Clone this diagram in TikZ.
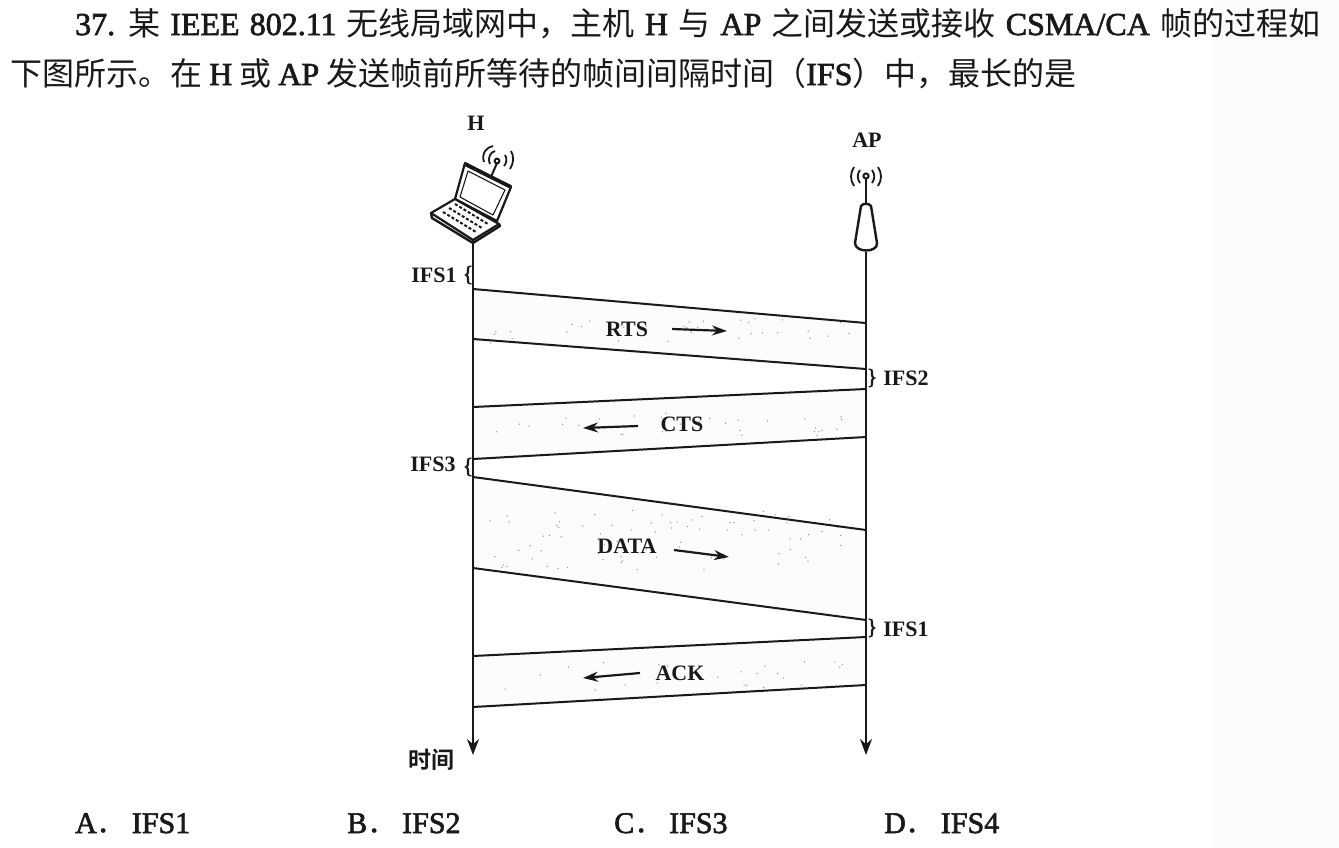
\documentclass[tikz,border=0pt]{standalone}
\usepackage{fontspec}
\setmainfont{Liberation Serif}[RawFeature={embolden=2}]
\newfontfamily\lblfont{Liberation Serif Bold}
\newfontfamily\cjk{Noto Sans CJK SC}
\newfontfamily\cjkb{Noto Sans CJK SC Bold}
\usetikzlibrary{arrows.meta}
\definecolor{ink}{gray}{0.1}
\definecolor{band}{gray}{0.99}
\definecolor{speck}{gray}{0.6}
\definecolor{edgepaper}{gray}{0.988}
\tikzset{
  lbl/.style={inner sep=0pt,text=ink,font=\lblfont\fontsize{22}{22}\selectfont},
  body/.style={inner sep=0pt,text=ink,anchor=base west,font=\fontsize{32}{32}\selectfont},
  optn/.style={inner sep=0pt,text=ink,anchor=base west,font=\fontsize{30}{30}\selectfont},
  frameline/.style={draw=ink,line width=2pt},
  frameband/.style={fill=band,draw=none},
  life/.style={draw=ink,line width=2pt,-{Stealth[length=16pt,width=12pt]}},
  dirn/.style={draw=ink,line width=2.2pt,-{Stealth[length=15pt,width=10pt]}},
  icon/.style={draw=ink,line width=2pt,line join=round},
  wave/.style={draw=ink,line width=1.8pt},
  brace/.style={inner sep=0pt,text=ink,font=\fontsize{22}{22}\selectfont}
}
\begin{document}
\begin{tikzpicture}[x=1pt,y=-1pt]
\useasboundingbox (0,0) rectangle (1339,847);
\fill[white] (0,0) rectangle (1339,847);
\fill[edgepaper] (1212,0) rectangle (1339,847);

% text
\node[body] (l1) at (75,35) {\spaceskip=10.2pt 37. {\cjk 某} IEEE 802.11 {\cjk 无线局域网中，主机} H {\cjk 与} AP {\cjk 之间发送或接收} CSMA/CA {\cjk 帧的过程如}};
\node[body] (l2) at (10,85) {\spaceskip=7pt {\cjk 下图所示。在} H {\cjk 或} AP {\cjk 发送帧前所等待的帧间间隔时间（}IFS{\cjk ）中，最长的是}};

% anchors
\coordinate (Ht) at (473,240); \coordinate (Hb) at (473,755);
\coordinate (At) at (866,252); \coordinate (Ab) at (866,755);
\coordinate (r1) at (473,289); \coordinate (r2) at (866,323);
\coordinate (r3) at (473,339); \coordinate (r4) at (866,369);
\coordinate (c1) at (866,389); \coordinate (c2) at (473,407);
\coordinate (c3) at (866,437); \coordinate (c4) at (473,459);
\coordinate (d1) at (473,477); \coordinate (d2) at (866,530);
\coordinate (d3) at (473,568); \coordinate (d4) at (866,620);
\coordinate (a1) at (866,637); \coordinate (a2) at (473,656);
\coordinate (a3) at (866,685); \coordinate (a4) at (473,707);

% frames
\fill[frameband] (r1)--(r2)--(r4)--(r3)--cycle;
\fill[frameband] (c1)--(c2)--(c4)--(c3)--cycle;
\fill[frameband] (d1)--(d2)--(d4)--(d3)--cycle;
\fill[frameband] (a1)--(a2)--(a4)--(a3)--cycle;
% speckle
\pgfmathsetseed{37}
\foreach \k in {1,...,170}{
  \pgfmathsetmacro{\sx}{490+rnd*360}
  \pgfmathsetmacro{\sy}{rnd}
  \pgfmathsetmacro{\ty}{\sy<.2?318+\sy*5*25:(\sy<.4?412+(\sy-.2)*5*24:(\sy<.8?510+(\sy-.4)*2.5*60:660+(\sy-.8)*5*30))}
  \fill[speck] (\sx,\ty) circle (0.75);
}
\draw[frameline] (r1)--(r2) (r3)--(r4) (c1)--(c2) (c3)--(c4) (d1)--(d2) (d3)--(d4) (a1)--(a2) (a3)--(a4);

% lifelines
\draw[life] (Ht)--(Hb);
\draw[life] (At)--(Ab);

% frame labels
\node[lbl] (rts) at (627,329) {RTS};
\coordinate (rtsA) at (672,329); \coordinate (rtsB) at (727,331);
\draw[dirn] (rtsA)--(rtsB);
\node[lbl] (cts) at (682,424) {CTS};
\coordinate (ctsA) at (638,426); \coordinate (ctsB) at (583,428);
\draw[dirn] (ctsA)--(ctsB);
\node[lbl] (data) at (627,546) {DATA};
\coordinate (dataA) at (674,550); \coordinate (dataB) at (729,557);
\draw[dirn] (dataA)--(dataB);
\node[lbl] (ack) at (680,673) {ACK};
\coordinate (ackA) at (640,673); \coordinate (ackB) at (583,678);
\draw[dirn] (ackA)--(ackB);

% ifs labels
\node[lbl] (i1) at (434,275) {IFS1};
\node[brace] (b1) at (468,275) {\{};
\node[lbl] (i2) at (906,378) {IFS2};
\node[brace] (b2) at (872,378) {\}};
\node[lbl] (i3) at (433,464) {IFS3};
\node[brace] (b3) at (468,467) {\{};
\node[lbl] (i4) at (906,629) {IFS1};
\node[brace] (b4) at (872,628) {\}};
\node[lbl] (hh) at (476,123) {H};
\node[lbl] (ap) at (867,140) {AP};
\node[lbl,font=\cjkb\fontsize{23}{23}\selectfont] (tm) at (431,760) {时间};

% laptop
\filldraw[icon,fill=white,line width=2.2pt] (465,163)--(511,187)--(497,221)--(455,199)--cycle;
\draw[icon,line width=1.1pt] (468,171)--(505,190)--(493,215)--(460,197)--cycle;
\draw[icon,line width=3.8pt] (465,164)--(511,187);
\filldraw[icon,fill=white,line width=2.2pt] (455,199)--(499,224)--(473,240)--(431,213)--cycle;
\draw[icon,line width=2.4pt] (431,213)--(432,218)--(473,243)--(500,226)--(499,224);
\draw[ink,line width=2pt,dash pattern=on 3pt off 2pt] (455,204)--(488,224);
\draw[ink,line width=2pt,dash pattern=on 3pt off 2pt] (449,208)--(482,228);
\draw[ink,line width=2pt,dash pattern=on 3pt off 2pt] (443,212)--(476,232);
\draw[icon] (491,177)--(497,163);
\draw[icon] (497,161) circle (2.4);
\draw[wave] (490,164) .. controls (487,157) and (491,152) .. (495,151);
\draw[wave] (484,162) .. controls (481,153) and (487,147) .. (493,146);
\draw[wave] (504,166) .. controls (507,163) and (507,158) .. (505,155);
\draw[wave] (510,169) .. controls (514,163) and (514,156) .. (511,151);

% access point
\draw[icon] (866,178)--(866,205);
\draw[icon] (866,176) circle (2.6);
\filldraw[icon,fill=white,line width=2.4pt] (861,206) .. controls (863,203) and (869,203) .. (871,206) -- (877,243) .. controls (878,253) and (855,253) .. (855,243) -- cycle;
\draw[wave] (860,170) .. controls (857,174) and (857,179) .. (860,183);
\draw[wave] (854,167) .. controls (850,173) and (850,180) .. (854,186);
\draw[wave] (872,170) .. controls (875,174) and (875,179) .. (872,183);
\draw[wave] (878,167) .. controls (882,173) and (882,180) .. (878,186);

% options
\node[optn] (oa) at (75,833) {A{\cjk ．}\hspace{5pt}IFS1};
\node[optn] (ob) at (347,833) {B{\cjk ．}\hspace{5pt}IFS2};
\node[optn] (oc) at (614,833) {C{\cjk ．}\hspace{5pt}IFS3};
\node[optn] (od) at (884,833) {D{\cjk ．}\hspace{5pt}IFS4};
\end{tikzpicture}
\end{document}
